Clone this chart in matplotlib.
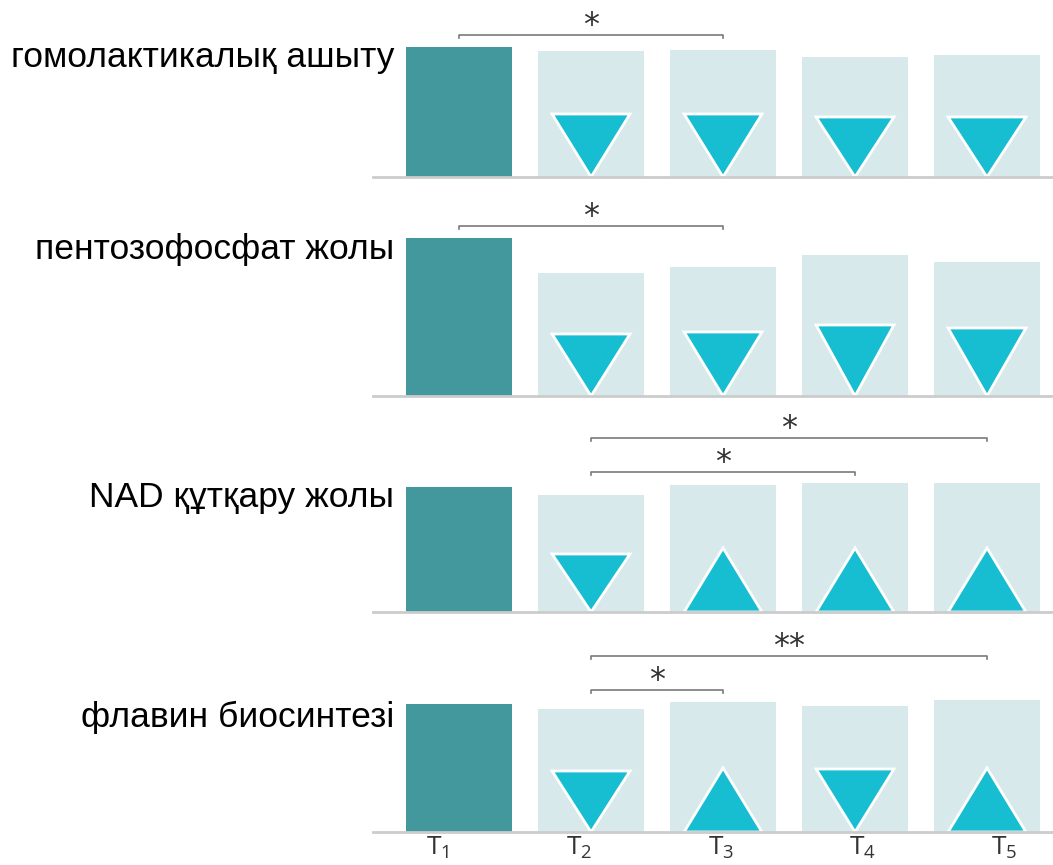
import matplotlib.pyplot as plt
import numpy as np

plt.rcParams['mathtext.fontset'] = 'custom'
plt.rcParams['mathtext.rm'] = 'Open Sans'
plt.rcParams['mathtext.it'] = 'Open Sans'

# pathway names (one panel each)
pathways = ["гомолактикалық ашыту", "пентозофосфат жолы",
            "NAD құтқару жолы", "флавин биосинтезі"]
groups = [r"$\mathrm{T}_1$", r"$\mathrm{T}_2$", r"$\mathrm{T}_3$",
          r"$\mathrm{T}_4$", r"$\mathrm{T}_5$"]

# bar heights per pathway (T1..T5)
vals_homolactic = [1.30, 1.26, 1.27, 1.20, 1.22]
vals_pentose = [1.58, 1.23, 1.29, 1.41, 1.34]
vals_nad = [1.25, 1.17, 1.27, 1.29, 1.29]
vals_flavin = [1.28, 1.23, 1.30, 1.26, 1.32]

# signed change vs T1 for T2..T5 (negative = down, size = triangle height)
chg_homolactic = [-0.63, -0.63, -0.60, -0.60]
chg_pentose = [-0.62, -0.64, -0.71, -0.68]
chg_nad = [-0.58, 0.64, 0.64, 0.64]
chg_flavin = [-0.61, 0.64, -0.63, 0.64]

# significance brackets: (from group, to group, label)
sig_homolactic = [(0, 2, "*")]
sig_pentose = [(0, 2, "*")]
sig_nad = [(1, 4, "*"), (1, 3, "*")]
sig_flavin = [(1, 4, "**"), (1, 2, "*")]

vals = [vals_homolactic, vals_pentose, vals_nad, vals_flavin]
changes = [chg_homolactic, chg_pentose, chg_nad, chg_flavin]
sigs = [sig_homolactic, sig_pentose, sig_nad, sig_flavin]

dark = '#43989d'
light = '#d8e9ec'
tri_color = '#17bdd0'
W, H = 1053, 865
baselines = [177, 396, 612, 832]
bracket_y = [[1.42], [1.70], [1.74, 1.40], [1.76, 1.42]]
label_y = [1.19, 1.46, 1.14, 1.15]

fig = plt.figure(figsize=(W / 100, H / 100), dpi=100)

for k in range(4):
    ax = fig.add_axes([373 / W, (H - baselines[k]) / H, 680 / W, 180 / H])
    x = np.arange(len(groups))
    ax.bar(x, vals[k], width=0.8, color=[dark] + [light] * 4, zorder=1)

    # up/down triangles inside the treatment bars
    hw = 0.295
    for i, c in enumerate(changes[k], start=1):
        px = [i - hw, i + hw, i]
        py = [-c, -c, 0] if c < 0 else [0, 0, c]
        ax.fill(px, py, facecolor=tri_color, edgecolor='white', lw=2, zorder=2)

    for (a, b, s), y in zip(sigs[k], bracket_y[k]):
        ax.plot([a, a, b, b], [y - 0.03, y, y, y - 0.03], color='#7a7a7a',
                lw=1.2, clip_on=False)
        ax.text((a + b) / 2, y + 0.01, s, ha='center', va='baseline',
                fontsize=23, color='#333333', clip_on=False)

    ax.text(-0.49, label_y[k], pathways[k], ha='right', va='center',
            fontsize=25.5, family='Liberation Sans', color='black', clip_on=False)

    ax.set_xlim(-0.652, 4.5)
    ax.set_ylim(0, 1.8)
    for side in ['top', 'right', 'left']:
        ax.spines[side].set_visible(False)
    ax.spines['bottom'].set_color('#cccccc')
    ax.spines['bottom'].set_linewidth(2)
    ax.spines['bottom'].set_zorder(3)
    ax.set_yticks([])
    if k == 3:
        # group labels are spaced a little wider than the bars
        ax.set_xticks(x * 1.073 - 0.16)
        ax.set_xticklabels(groups, fontsize=19, color='#333333')
        ax.tick_params(axis='x', length=0, pad=2)
    else:
        ax.set_xticks([])

plt.savefig('out.png', dpi=100)
